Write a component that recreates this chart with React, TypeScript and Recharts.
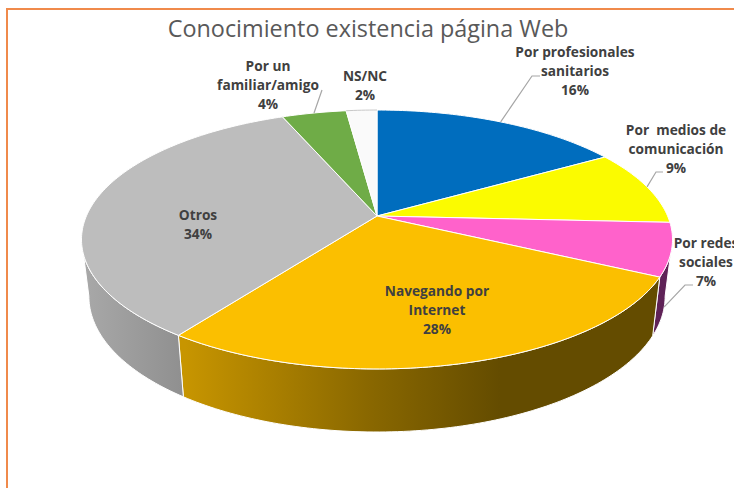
import { PieChart, Pie, Cell } from 'recharts'

const categories = [
  'Por profesionales sanitarios',
  'Por  medios de comunicación',
  'Por redes sociales',
  'Navegando por Internet',
  'Otros',
  'Por un familiar/amigo',
  'NS/NC',
]
const values = [16.4, 9.4, 6.6, 27.5, 33.9, 4.2, 2.0]
const percentLabels = ['16%', '9%', '7%', '28%', '34%', '4%', '2%']
const labelLines = [
  ['Por profesionales', 'sanitarios'],
  ['Por  medios de', 'comunicación'],
  ['Por redes', 'sociales'],
  ['Navegando por', 'Internet'],
  ['Otros'],
  ['Por un', 'familiar/amigo'],
  ['NS/NC'],
]
const colors = ['#006dbe', '#fbfb00', '#ff62cb', '#fbbf00', '#bdbdbd', '#6fac47', '#fafafa']

// label centres and the elbow of each leader line, null = no leader
const labelCentres = [
  [575, 52], [676, 130], [706, 243], [437, 291], [198, 215], [268, 66], [365, 76],
]
const leaderElbows = [
  [[532, 76], [540, 76]],
  [[656, 172], [663, 172]],
  [[685, 285], [693, 285]],
  null,
  null,
  [[322, 90]],
  null,
]

const wallGradients: (string[] | null)[] = [
  null,
  null,
  ['#5f2257', '#5f2257'],
  ['#c79500', '#8a6800', '#644c00', '#644c00'],
  ['#a8a8a8', '#8f8f8f'],
  null,
  null,
]
const wallGradientRange = [null, null, [650, 672], [185, 367, 500, 660], [85, 185], null, null]

const KEYSTONE = 0.1814
const SQUASH = 0.4308
const WALL_TOP = -10.4
const WALL_END = -169.6

// the pie lies tilted, the near side comes out larger than the far side
function project(cx: number, cy: number, r: number, angle: number) {
  const rad = (angle * Math.PI) / 180
  const u = Math.cos(rad)
  const v = Math.sin(rad)
  const w = 1 + KEYSTONE * v
  return { x: cx + (r * u) / w, y: cy - (r * SQUASH * v) / w }
}

function drop(cx: number, cy: number, p: { x: number; y: number }) {
  return { x: cx + (p.x - cx) * 0.975, y: p.y + 57 + 0.047 * (p.y - cy - 24) }
}

function arc(cx: number, cy: number, r: number, from: number, to: number) {
  const pts = []
  const steps = Math.max(2, Math.ceil(Math.abs(from - to)))
  for (let i = 0; i <= steps; i++) {
    pts.push(project(cx, cy, r, from + ((to - from) * i) / steps))
  }
  return pts
}

function toPath(pts: { x: number; y: number }[]) {
  return pts.map((p, i) => `${i ? 'L' : 'M'}${p.x.toFixed(2)},${p.y.toFixed(2)}`).join(' ')
}

function Slice(props: any) {
  const { cx, cy, outerRadius, startAngle, endAngle, fill, index } = props
  const top = arc(cx, cy, outerRadius, startAngle, endAngle)
  const wallFrom = Math.min(startAngle, WALL_TOP)
  const wallTo = Math.max(endAngle, WALL_END)
  const hasWall = wallFrom > wallTo
  const stops = wallGradients[index]
  const range = wallGradientRange[index]
  const gradId = `wall-${index}`
  let wall = ''
  if (hasWall) {
    const upper = arc(cx, cy, outerRadius, wallFrom, wallTo)
    const lower = upper.map((p) => drop(cx, cy, p)).reverse()
    wall = toPath([...upper, ...lower]) + ' Z'
  }
  return (
    <g>
      {hasWall && stops && range && (
        <>
          <defs>
            <linearGradient
              id={gradId}
              gradientUnits="userSpaceOnUse"
              x1={range[0]}
              x2={range[range.length - 1]}
              y1={0}
              y2={0}
            >
              {stops.map((c, i) => (
                <stop
                  key={i}
                  offset={(range[i] - range[0]) / (range[range.length - 1] - range[0]) || 0}
                  stopColor={c}
                />
              ))}
            </linearGradient>
          </defs>
          <path d={wall} fill={`url(#${gradId})`} stroke="#fff" strokeWidth={1} />
        </>
      )}
      <path
        d={`M${cx},${cy} ${toPath(top).replace('M', 'L')} Z`}
        fill={fill}
        stroke="#fff"
        strokeWidth={1}
      />
      {/* the near-white slice needs a visible rim */}
      {index === 6 && <path d={toPath(top)} fill="none" stroke="#c8c8c8" strokeWidth={1} />}
    </g>
  )
}

function SliceLabel(props: any) {
  const { cx, cy, outerRadius, midAngle, index } = props
  const [lx, ly] = labelCentres[index]
  const rows = [...labelLines[index], percentLabels[index]]
  const elbows = leaderElbows[index]
  let leader = null
  if (elbows) {
    let start = project(cx, cy, outerRadius, midAngle)
    // this slice's leader hangs from the foot of its wall
    if (index === 2) start = drop(cx, cy, start)
    leader = (
      <polyline
        points={[start, ...elbows.map(([x, y]) => ({ x, y }))].map((p) => `${p.x},${p.y}`).join(' ')}
        fill="none"
        stroke="#a6a6a6"
        strokeWidth={1.2}
      />
    )
  }
  return (
    <g>
      {leader}
      {rows.map((row, i) => (
        <text
          key={i}
          x={lx}
          y={ly + i * 19 + 5}
          textAnchor="middle"
          fontFamily="'Open Sans', sans-serif"
          fontSize={13.7}
          fontWeight={700}
          fill="#404040"
          style={{ whiteSpace: 'pre' }}
        >
          {row}
        </text>
      ))}
    </g>
  )
}

const data = categories.map((name, i) => ({ name, value: values[i] }))

export default function App() {
  return (
    <div
      style={{
        position: 'absolute',
        left: 0,
        top: 0,
        width: 734,
        height: 488,
        background: '#fff',
        overflow: 'hidden',
      }}
    >
      <div
        style={{
          position: 'absolute',
          left: 6,
          top: 8,
          width: 734,
          height: 488,
          borderTop: '2px solid #f08a4b',
          borderLeft: '2px solid #f08a4b',
        }}
      />
      <div style={{ position: 'absolute', left: 0, top: 0 }}>
        <PieChart width={734} height={488} margin={{ top: 0, right: 0, bottom: 0, left: 0 }}>
          <text
            x={368}
            y={37}
            textAnchor="middle"
            fontFamily="'Open Sans', sans-serif"
            fontSize={23.4}
            fill="#595959"
          >
            Conocimiento existencia página Web
          </text>
          <Pie
            data={data}
            dataKey="value"
            nameKey="name"
            cx={377}
            cy={216}
            innerRadius={0}
            outerRadius={290.6}
            startAngle={90}
            endAngle={-270}
            paddingAngle={0}
            isAnimationActive={false}
            shape={Slice}
            label={SliceLabel}
            labelLine={false}
          >
            {data.map((entry, index) => (
              <Cell key={`cell-${index}`} fill={colors[index]} />
            ))}
          </Pie>
        </PieChart>
      </div>
    </div>
  )
}
